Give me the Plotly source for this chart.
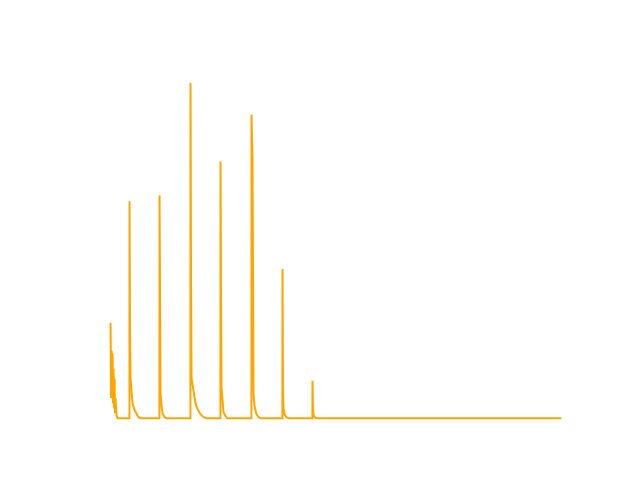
import plotly.graph_objects as go

# time offsets and signal heights
t = [0, 0.5, 1, 1.5, 2, 2.5, 3, 3.5, 4, 4.5, 5, 6, 7,
     18.9, 19, 19.5, 20, 21, 22, 24, 26, 28, 30,
     48.9, 49, 49.5, 50, 51, 52, 54, 56,
     79.9, 80, 80.5, 81, 82, 83, 85, 87, 90, 93, 96,
     109.9, 110, 110.5, 111, 112, 113, 115, 117,
     140.9, 141, 142, 142.5, 143, 144, 146, 148, 150,
     171.9, 172, 172.5, 173, 174, 176, 178,
     201.9, 202, 202.5, 203, 204, 206,
     451]
signal = [96, 20, 68, 40, 65, 15, 50, 10, 40, 5, 20, 3, 0,
          0, 218, 80, 40, 25, 15, 8, 4, 1, 0,
          0, 224, 60, 25, 12, 5, 1, 0,
          0, 337, 140, 40, 33, 25, 15, 9, 4, 1, 0,
          0, 258, 120, 30, 15, 6, 2, 0,
          0, 305, 260, 60, 25, 12, 4, 1, 0,
          0, 150, 30, 10, 4, 1, 0,
          0, 38, 10, 4, 1, 0,
          0]

fig = go.Figure(go.Scatter(x=t, y=signal, mode="lines",
                           line=dict(color="orange", width=2)))
fig.update_layout(
    width=640, height=480,
    margin=dict(l=80, r=64, t=58, b=53),
    plot_bgcolor="white", paper_bgcolor="white",
    showlegend=False,
    xaxis=dict(visible=False, range=[-22.55, 473.55]),
    yaxis=dict(visible=False, range=[-16.85, 353.85]),
)
fig.write_html("out.html")
